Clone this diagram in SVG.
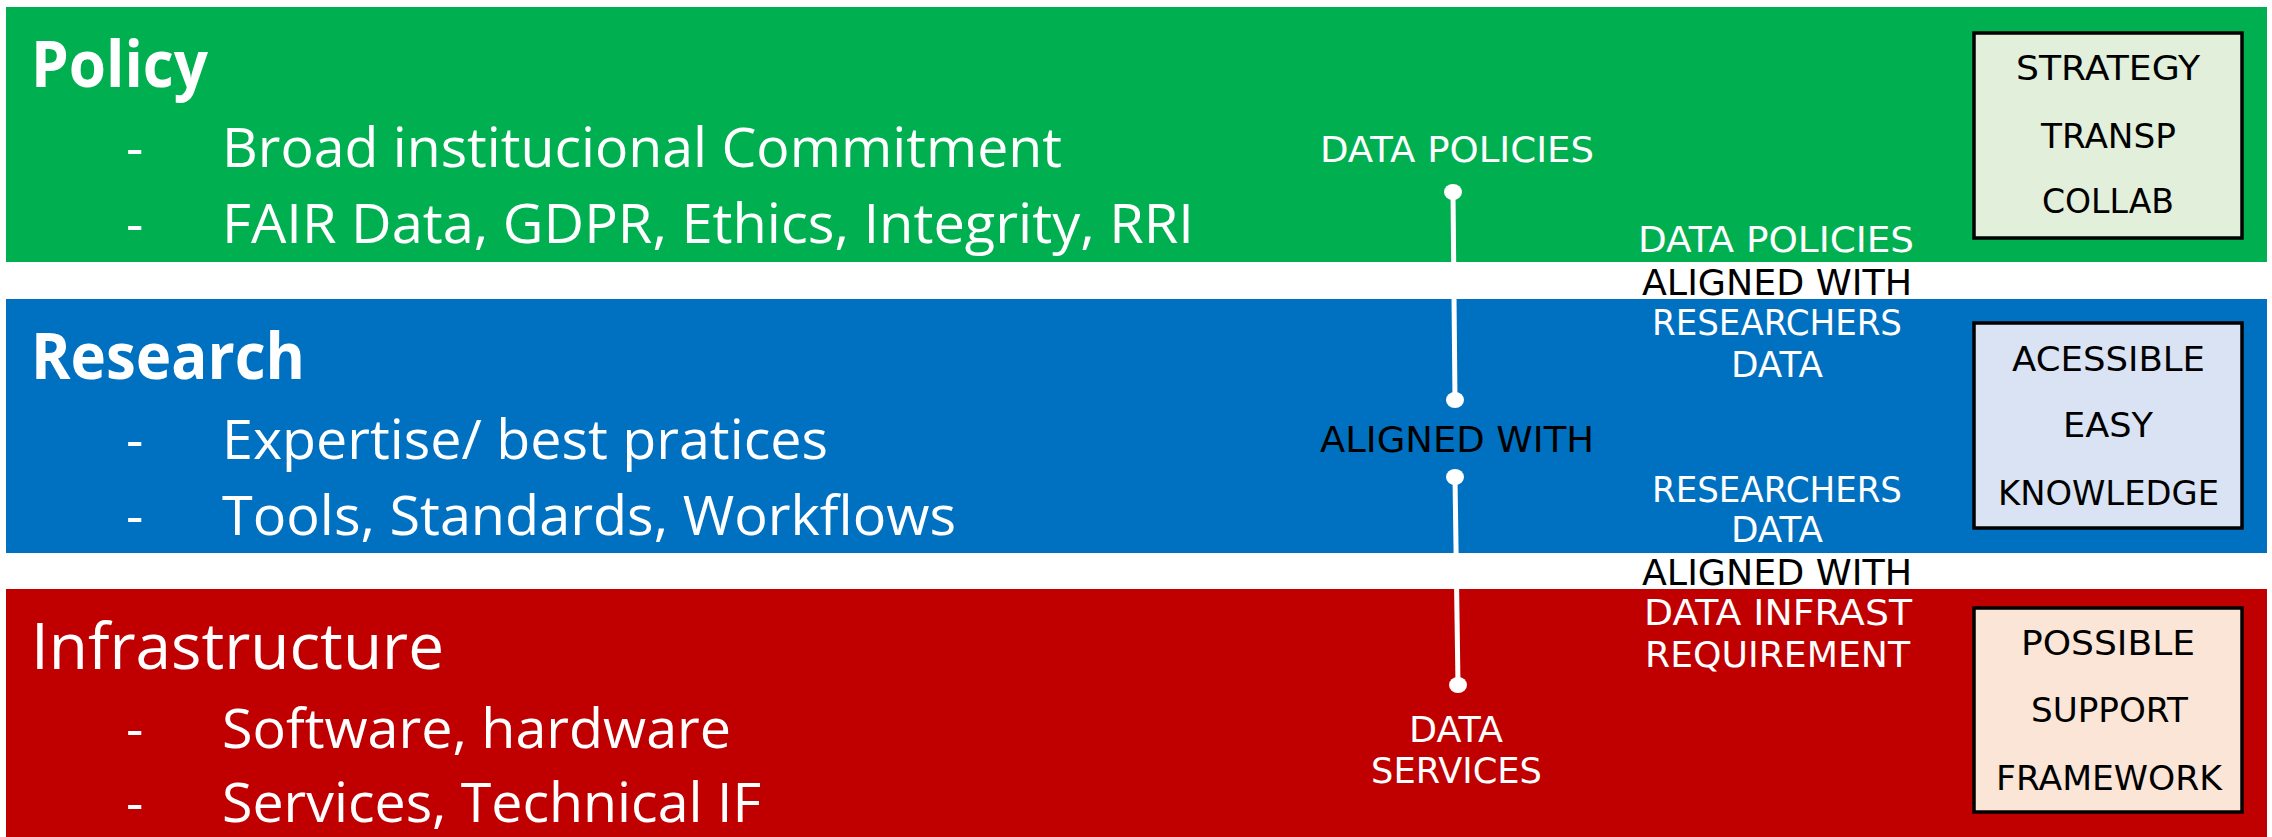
<svg xmlns="http://www.w3.org/2000/svg" width="2272" height="837" viewBox="0 0 2272 837">
<style>
.band-title{font-family:"Open Sans","Noto Sans",sans-serif;fill:#fff;font-size:64px}
.bold{font-weight:bold}
.item{font-family:"Open Sans","Noto Sans",sans-serif;fill:#fff;font-size:54px}
.c{font-family:"DejaVu Sans","Noto Sans",sans-serif;font-size:35px}
.b{font-family:"DejaVu Sans","Noto Sans",sans-serif;font-size:34px;fill:#000}
.w{fill:#fff}
.k{fill:#000}
.box{stroke:#000;stroke-width:3.5}
.conn{stroke:#fff;stroke-width:5;fill:none}
.dot{fill:#fff}
</style>
<rect width="2272" height="837" fill="#fff"/>
<g id="policy">
<rect x="6" y="7" width="2261" height="255" fill="#00B050"/>
<text class="band-title bold" x="31" y="87" textLength="177" lengthAdjust="spacingAndGlyphs">Policy</text>
<text class="item" x="126" y="167">-</text>
<text class="item" x="222" y="167" textLength="840" lengthAdjust="spacingAndGlyphs">Broad institucional Commitment</text>
<text class="item" x="126" y="243">-</text>
<text class="item" x="222" y="243" textLength="972" lengthAdjust="spacingAndGlyphs">FAIR Data, GDPR, Ethics, Integrity, RRI</text>
<text class="c w" x="1320" y="162" textLength="274" lengthAdjust="spacingAndGlyphs">DATA POLICIES</text>
<text class="c w" x="1638" y="252" textLength="276" lengthAdjust="spacingAndGlyphs">DATA POLICIES</text>
</g>
<g id="policy-box">
<rect class="box" x="1974" y="33" width="268" height="205" fill="#E2EFDA"/>
<text class="b" x="2016" y="80" textLength="184" lengthAdjust="spacingAndGlyphs">STRATEGY</text>
<text class="b" x="2041" y="148" textLength="135" lengthAdjust="spacingAndGlyphs">TRANSP</text>
<text class="b" x="2042" y="213" textLength="132" lengthAdjust="spacingAndGlyphs">COLLAB</text>
</g>
<g id="gap1">
<text class="c k" x="1642" y="295" textLength="270" lengthAdjust="spacingAndGlyphs">ALIGNED WITH</text>
</g>
<g id="research">
<rect x="6" y="299" width="2261" height="254" fill="#0070C0"/>
<text class="band-title bold" x="31" y="379" textLength="274" lengthAdjust="spacingAndGlyphs">Research</text>
<text class="item" x="126" y="459">-</text>
<text class="item" x="222" y="459" textLength="606" lengthAdjust="spacingAndGlyphs">Expertise/ best pratices</text>
<text class="item" x="126" y="535">-</text>
<text class="item" x="222" y="535" textLength="734" lengthAdjust="spacingAndGlyphs">Tools, Standards, Workflows</text>
<text class="c k" x="1320" y="452" textLength="274" lengthAdjust="spacingAndGlyphs">ALIGNED WITH</text>
<text class="c w" x="1652" y="335" textLength="250" lengthAdjust="spacingAndGlyphs">RESEARCHERS</text>
<text class="c w" x="1731" y="377" textLength="92" lengthAdjust="spacingAndGlyphs">DATA</text>
<text class="c w" x="1652" y="502" textLength="250" lengthAdjust="spacingAndGlyphs">RESEARCHERS</text>
<text class="c w" x="1731" y="542" textLength="92" lengthAdjust="spacingAndGlyphs">DATA</text>
</g>
<g id="research-box">
<rect class="box" x="1974" y="323" width="268" height="205" fill="#DAE3F3"/>
<text class="b" x="2012" y="371" textLength="193" lengthAdjust="spacingAndGlyphs">ACESSIBLE</text>
<text class="b" x="2063" y="437" textLength="90" lengthAdjust="spacingAndGlyphs">EASY</text>
<text class="b" x="1998" y="505" textLength="221" lengthAdjust="spacingAndGlyphs">KNOWLEDGE</text>
</g>
<g id="gap2">
<text class="c k" x="1642" y="585" textLength="270" lengthAdjust="spacingAndGlyphs">ALIGNED WITH</text>
</g>
<g id="infrastructure">
<rect x="6" y="589" width="2261" height="248" fill="#C00000"/>
<text class="band-title" x="31" y="669" textLength="413" lengthAdjust="spacingAndGlyphs">Infrastructure</text>
<text class="item" x="126" y="748">-</text>
<text class="item" x="222" y="748" textLength="509" lengthAdjust="spacingAndGlyphs">Software, hardware</text>
<text class="item" x="126" y="822">-</text>
<text class="item" x="222" y="822" textLength="539" lengthAdjust="spacingAndGlyphs">Services, Technical IF</text>
<text class="c w" x="1644" y="625" textLength="268" lengthAdjust="spacingAndGlyphs">DATA INFRAST</text>
<text class="c w" x="1645" y="667" textLength="265" lengthAdjust="spacingAndGlyphs">REQUIREMENT</text>
<text class="c w" x="1409" y="742" textLength="94" lengthAdjust="spacingAndGlyphs">DATA</text>
<text class="c w" x="1371" y="783" textLength="171" lengthAdjust="spacingAndGlyphs">SERVICES</text>
</g>
<g id="infrastructure-box">
<rect class="box" x="1974" y="608" width="268" height="204" fill="#FBE5D6"/>
<text class="b" x="2021" y="655" textLength="174" lengthAdjust="spacingAndGlyphs">POSSIBLE</text>
<text class="b" x="2031" y="722" textLength="157" lengthAdjust="spacingAndGlyphs">SUPPORT</text>
<text class="b" x="1996" y="790" textLength="226" lengthAdjust="spacingAndGlyphs">FRAMEWORK</text>
</g>
<g id="connectors">
<line class="conn" x1="1453" y1="192" x2="1455" y2="400"/>
<ellipse class="dot" cx="1453" cy="192" rx="9" ry="8"/>
<ellipse class="dot" cx="1455" cy="400" rx="9" ry="8"/>
<line class="conn" x1="1455" y1="477" x2="1458" y2="685"/>
<ellipse class="dot" cx="1455" cy="477" rx="9" ry="8"/>
<ellipse class="dot" cx="1458" cy="685" rx="9" ry="8"/>
</g>
</svg>
